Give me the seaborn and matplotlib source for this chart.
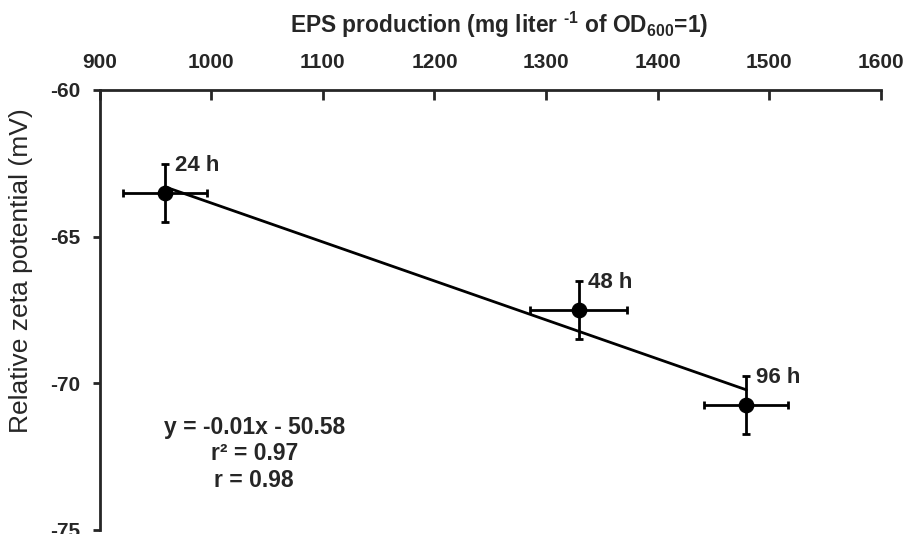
import numpy as np
import pandas as pd
import seaborn as sns
from matplotlib import pyplot as plt

# data
labels = ["24 h", "48 h", "96 h"]
eps = [958.3, 1329.3, 1479.6]
eps_err = [37.6, 43.3, 37.6]
zeta = [-63.51, -67.50, -70.74]
zeta_err = [1.0, 1.0, 1.0]
xticks = [900, 1000, 1100, 1200, 1300, 1400, 1500, 1600]
yticks = [-75, -70, -65, -60]
eq_lines = ["y = -0.01x - 50.58", "r\u00b2 = 0.97", "r = 0.98"]
eq_y = [-71.49, -72.38, -73.30]


def main():
    df = pd.DataFrame({"eps": eps, "zeta": zeta, "label": labels})

    sns.set_style("ticks")
    plt.rcParams["font.family"] = ["Liberation Sans", "DejaVu Sans"]
    plt.rcParams["axes.unicode_minus"] = False
    plt.rcParams["mathtext.fontset"] = "custom"
    plt.rcParams["mathtext.rm"] = "Liberation Sans:bold"
    plt.rcParams["mathtext.bf"] = "Liberation Sans:bold"
    plt.rcParams["mathtext.default"] = "bf"

    fig = plt.figure(figsize=(9.07, 5.34), dpi=100)
    ax = fig.add_axes([0.110, 0.0075, 0.861, 0.824])

    sns.regplot(data=df, x="eps", y="zeta", ci=None, scatter=False, truncate=True,
                line_kws={"color": "black", "lw": 2}, ax=ax)
    ax.errorbar(df["eps"], df["zeta"], xerr=eps_err, yerr=zeta_err, fmt="none",
                ecolor="black", elinewidth=2, capsize=3, capthick=2)
    sns.scatterplot(data=df, x="eps", y="zeta", color="black", s=110,
                    edgecolor="black", zorder=5, ax=ax)

    for _, row in df.iterrows():
        ax.annotate(row["label"], (row["eps"], row["zeta"]), xytext=(7, 20),
                    textcoords="offset points", va="center",
                    fontsize=16, fontweight="bold")

    for txt, yy in zip(eq_lines, eq_y):
        ax.text(1038.5, yy, txt, ha="center", va="center", fontsize=16.5, fontweight="bold")

    ax.set_xlim(900, 1600)
    ax.set_ylim(-75, -60)
    ax.set_xticks(xticks)
    ax.set_yticks(yticks)
    ax.xaxis.tick_top()
    ax.xaxis.set_label_position("top")
    ax.tick_params(axis="x", direction="in", length=7, width=2, labelsize=15, pad=13)
    ax.tick_params(axis="y", direction="out", length=5, width=2, labelsize=15, pad=9)
    for lab in ax.get_xticklabels() + ax.get_yticklabels():
        lab.set_fontweight("bold")
    ax.spines["bottom"].set_visible(False)
    ax.spines["right"].set_visible(False)
    ax.spines["top"].set_linewidth(2)
    ax.spines["left"].set_linewidth(2)

    ax.set_xlabel(r"EPS production (mg liter $^{\text{-1}}$ of OD$_{600}$=1)", fontsize=16.4,
                  fontweight="bold")
    ax.xaxis.set_label_coords(0.511, 1.13)
    ax.set_ylabel("Relative zeta potential (mV)", fontsize=19)
    ax.yaxis.set_label_coords(-0.085, 0.59)

    plt.savefig("out.png", dpi=100)


if __name__ == "__main__":
    main()
